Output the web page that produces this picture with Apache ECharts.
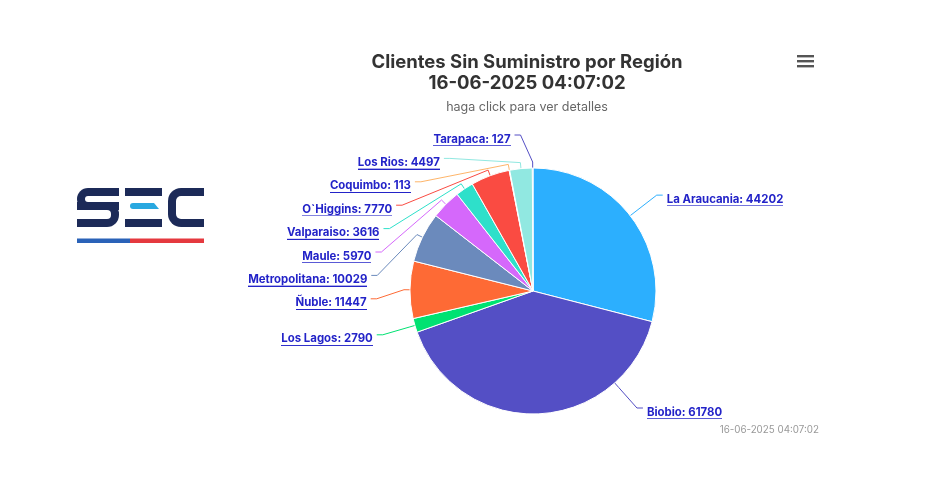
<!DOCTYPE html>
<html>
<head>
<meta charset="utf-8">
<script src="https://cdn.jsdelivr.net/npm/echarts@6/dist/echarts.min.js"></script>
<style>
  html, body { margin: 0; padding: 0; background: #ffffff; }
  #chart { width: 930px; height: 477px; }
</style>
</head>
<body>
<div id="chart"></div>
<script>
// Regions and customers without supply, in slice order (clockwise from 12 o'clock)
const regions = ['La Araucania', 'Biobio', 'Los Lagos', 'Ñuble', 'Metropolitana', 'Maule',
                 'Valparaiso', 'O`Higgins', 'Coquimbo', 'Los Rios', 'Tarapaca'];
const clientes = [44202, 61780, 2790, 11447, 10029, 5970, 3616, 7770, 113, 4497, 127];
const sliceColors = ['#2caffe', '#544fc5', '#00e272', '#fe6a35', '#6b8abc', '#d568fb',
                     '#2ee0ca', '#fa4b42', '#feb56a', '#91e8e1', '#544fc5'];
const titleText = 'Clientes Sin Suministro por Región';
const stamp = '16-06-2025 04:07:02';
const subtitle = 'haga click para ver detalles';

const FONT = 'Inter, "Noto Sans", sans-serif';
const LINK = '#2323c8';
const NAVY = '#1c2a58';

// pie geometry and label distribution settings
const CX = 533, CY = 291, R0 = 123;   // pie centre and radius
const RL = 156.5;                     // radius of the circle the label anchors sit on
const GAP = 23.4;                     // vertical step between stacked labels
const TOP = 138, BOTTOM = 411;        // allowed range for label centres
const YOFF = 3;                       // text centre sits a little below its connector
const TEXT_DY = 1.2;                  // fine vertical nudge of the label text

// Highcharts-like outside label placement: labels are spread on each side,
// then pulled onto a circle around the pie and joined with a connector.
function computeLabels() {
  const total = clientes.reduce((a, b) => a + b, 0);
  const rad = d => d * Math.PI / 180;
  let acc = 0;
  const items = clientes.map((v, i) => {
    const start = acc / total * 360;
    acc += v;
    const end = acc / total * 360;
    const mid = (start + end) / 2;
    const right = Math.sin(rad(mid)) >= 0;
    const nat = CY - RL * Math.cos(rad(mid)) + YOFF;
    return { i, start, end, mid, right, nat };
  });
  [true, false].forEach(side => {
    const list = items.filter(it => it.right === side).sort((a, b) => a.nat - b.nat);
    list.forEach((it, k) => {
      it.y = Math.min(Math.max(it.nat, TOP), BOTTOM);
      if (k > 0) it.y = Math.max(it.y, list[k - 1].y + GAP);
    });
    for (let k = list.length - 1; k >= 0; k--) {
      if (k === list.length - 1) list[k].y = Math.min(list[k].y, BOTTOM);
      else list[k].y = Math.min(list[k].y, list[k + 1].y - GAP);
    }
    list.forEach((it, k) => {
      if (k === 0) it.y = Math.max(it.y, TOP);
      else it.y = Math.max(it.y, list[k - 1].y + GAP);
    });
  });
  return items.map(it => {
    const sgn = it.right ? 1 : -1;
    const yl = it.y - YOFF;
    const dy = yl - CY;
    const bx = CX + sgn * Math.sqrt(Math.max(0, RL * RL - dy * dy));
    let ang = it.mid;
    const clamped = it.nat > BOTTOM + 0.5;
    if (clamped) {
      ang = Math.atan2(bx - CX, -(yl - CY)) * 180 / Math.PI;
      if (ang < 0) ang += 360;
      ang = Math.min(Math.max(ang, it.start + 0.5), it.end - 0.5);
    }
    const s = Math.sin(rad(ang)), c = Math.cos(rad(ang));
    const touch = [CX + R0 * s, CY - R0 * c];
    const brk = [CX + (R0 + 6) * s, CY - (R0 + 6) * c];
    return {
      x: bx + sgn * 10,
      y: it.y + TEXT_DY,
      align: it.right ? 'left' : 'right',
      points: [touch, brk, [bx, yl], [bx + sgn * 6, yl]]
    };
  });
}
const labelPos = computeLabels();

// thin canvas used as label background: a 1px line on its bottom row acts as an underline
function underline(color, h) {
  const c = document.createElement('canvas');
  c.width = 4; c.height = h;
  const g = c.getContext('2d');
  g.fillStyle = color;
  g.fillRect(0, h - 1, 4, 1);
  return c;
}

const chart = echarts.init(document.getElementById('chart'), null, { renderer: 'canvas' });

chart.setOption({
  animation: false,
  backgroundColor: '#ffffff',
  title: {
    text: titleText + '\n' + stamp,
    subtext: subtitle,
    left: 522,
    top: 47,
    textAlign: 'center',
    itemGap: 7,
    textStyle: { fontFamily: FONT, fontSize: 18.5, fontWeight: 'bold', color: '#333333', lineHeight: 21 },
    subtextStyle: { fontFamily: FONT, fontSize: 12.5, color: '#666666' }
  },
  series: [{
    type: 'pie',
    center: [CX, CY],
    radius: R0,
    startAngle: 90,
    clockwise: true,
    avoidLabelOverlap: false,
    itemStyle: { borderColor: '#ffffff', borderWidth: 1 },
    label: {
      show: true,
      formatter: '{b}: {c}',
      fontFamily: FONT,
      fontSize: 11.4,
      fontWeight: 'bold',
      color: LINK,
      lineHeight: 14,
      padding: 0,
      backgroundColor: { image: underline(LINK, 14) }
    },
    labelLine: { show: true, length: 18, length2: 12, lineStyle: { width: 1 } },
    labelLayout: function (p) {
      const L = labelPos[p.dataIndex];
      return { x: L.x, y: L.y, align: L.align, verticalAlign: 'middle', labelLinePoints: L.points };
    },
    emphasis: { disabled: true },
    data: regions.map((r, i) => ({ name: r, value: clientes[i], itemStyle: { color: sliceColors[i] } }))
  }],
  graphic: [
    // menu button
    { type: 'rect', shape: { x: 797, y: 55, width: 17, height: 2.4 }, style: { fill: '#555555' } },
    { type: 'rect', shape: { x: 797, y: 60, width: 17, height: 2.4 }, style: { fill: '#555555' } },
    { type: 'rect', shape: { x: 797, y: 65, width: 17, height: 2.4 }, style: { fill: '#555555' } },
    // SEC logo: S
    { type: 'rect', shape: { x: 77, y: 188, width: 42, height: 22, r: [11, 0, 0, 11] }, style: { fill: NAVY } },
    { type: 'rect', shape: { x: 77, y: 202, width: 42, height: 25, r: [0, 12, 12, 0] }, style: { fill: NAVY } },
    { type: 'rect', shape: { x: 85, y: 196, width: 35, height: 6, r: [3, 0, 0, 3] }, style: { fill: '#ffffff' } },
    { type: 'rect', shape: { x: 76, y: 210, width: 35, height: 9, r: [0, 4, 4, 0] }, style: { fill: '#ffffff' } },
    // E
    { type: 'rect', shape: { x: 125, y: 188, width: 37, height: 8 }, style: { fill: NAVY } },
    { type: 'polygon', shape: { points: [[133, 203], [154, 203], [159, 209], [133, 209]] }, style: { fill: '#29a8e0' } },
    { type: 'circle', shape: { cx: 133, cy: 206, r: 3 }, style: { fill: '#29a8e0' } },
    { type: 'rect', shape: { x: 125, y: 219, width: 37, height: 8 }, style: { fill: NAVY } },
    // C
    { type: 'rect', shape: { x: 168, y: 188, width: 36, height: 39, r: [13, 0, 0, 13] }, style: { fill: NAVY } },
    { type: 'rect', shape: { x: 176, y: 196, width: 29, height: 23, r: [5, 0, 0, 5] }, style: { fill: '#ffffff' } },
    // stripe
    { type: 'rect', shape: { x: 77, y: 238.5, width: 53, height: 4.5 }, style: { fill: '#2a62b8' } },
    { type: 'rect', shape: { x: 130, y: 238.5, width: 74, height: 4.5 }, style: { fill: '#e5393f' } },
    // credits
    { type: 'text', right: 111, top: 425, style: { text: stamp, fontFamily: FONT, fontSize: 9.8, fill: '#999999' } }
  ]
});
</script>
</body>
</html>
